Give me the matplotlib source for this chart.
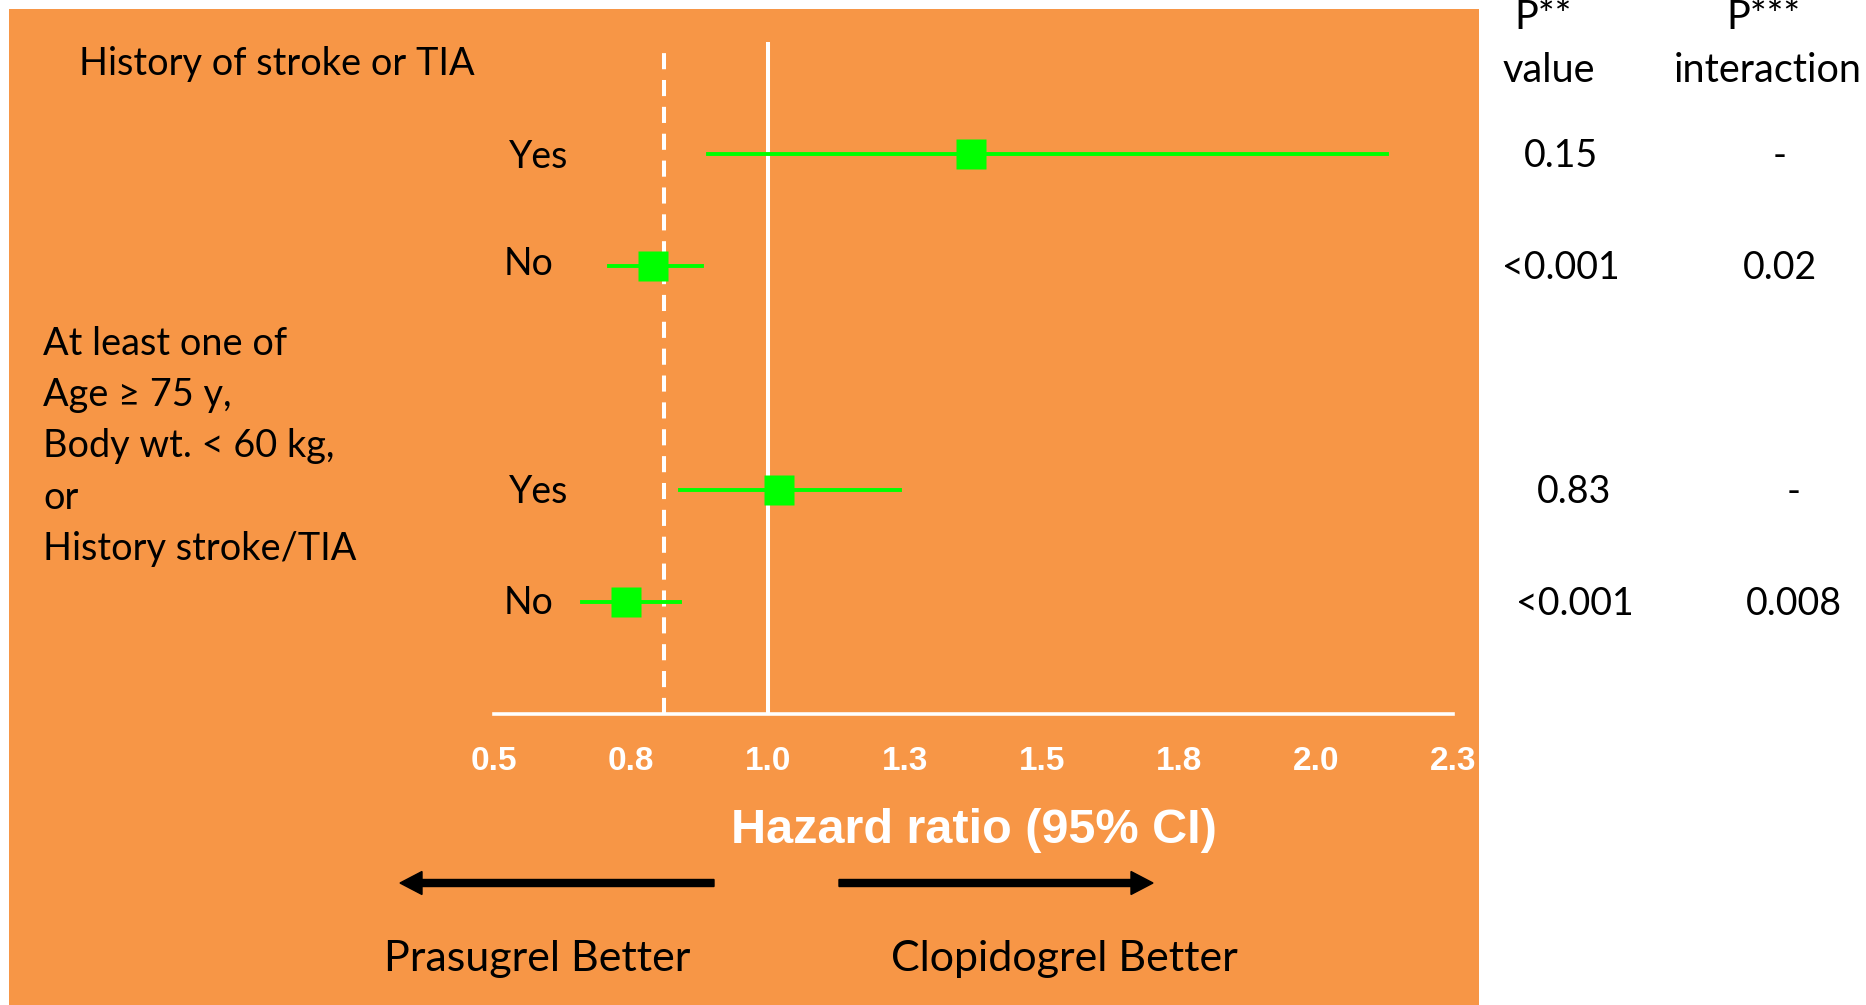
import matplotlib
matplotlib.use("Agg")
import matplotlib.pyplot as plt
import matplotlib.transforms as mtransforms
from matplotlib.patches import Rectangle, FancyArrow

W, H = 1866, 1005
ORANGE = "#F79646"
GREEN = "#00FF00"
TXT = "Lato"
BOLD = "Liberation Sans"

# subgroup rows (top to bottom)
row_labels = ["Yes", "No", "Yes", "No"]
rows = [5, 4, 2, 1]
hr = [1.37, 0.79, 1.02, 0.74]
ci_low = [0.89, 0.71, 0.84, 0.66]
ci_high = [2.13, 0.88, 1.24, 0.84]
p_value = ["0.15", "<0.001", "0.83", "<0.001"]
p_interaction = ["-", "0.02", "-", "0.008"]
overall_hr = 0.81

tick_pos = [0.5, 0.75, 1.0, 1.25, 1.5, 1.75, 2.0, 2.25]
tick_labels = ["0.5", "0.8", "1.0", "1.3", "1.5", "1.8", "2.0", "2.3"]
tick_marks = [1.0, 1.5, 2.0]


def fx(x):
    return x / W


def fy(y):
    return 1 - y / H


fig = plt.figure(figsize=(W / 100, H / 100), dpi=100, facecolor="white")
fig.add_artist(Rectangle((fx(9), 0), fx(1479 - 9), fy(9), transform=fig.transFigure,
                         facecolor=ORANGE, edgecolor="none", zorder=0))

ax = fig.add_axes([fx(494), fy(714), fx(1453 - 494), (714 - 42) / H])
ax.set_facecolor("none")
ax.set_xlim(0.5, 2.25)
ax.set_ylim(0, 6)
for s in ["top", "left", "right"]:
    ax.spines[s].set_visible(False)
ax.spines["bottom"].set_color("white")
ax.spines["bottom"].set_linewidth(2.6)
ax.set_yticks([])
ax.set_xticks(tick_pos)
ax.set_xticklabels(tick_labels, fontfamily=BOLD, fontweight="bold", fontsize=24, color="white")
ax.tick_params(axis="x", which="major", length=0, pad=23)
ax.set_xticks(tick_marks, minor=True)
ax.tick_params(axis="x", which="minor", length=6, width=2.6, color="white")

# reference lines: no effect and overall result
ax.axvline(1.0, color="white", lw=2.9, zorder=2)
ax.plot([overall_hr, overall_hr], [0, 5.93], color="white", lw=2.9,
        dashes=(4, 2.67), zorder=2)

for r, h, lo, hi in zip(rows, hr, ci_low, ci_high):
    ax.plot([lo, hi], [r, r], color=GREEN, lw=2.8, zorder=3, clip_on=False)
    ax.plot(h, r, marker="s", ms=21, color=GREEN, mec="none", zorder=4, clip_on=False)

# Yes/No labels (baseline drop below the row, in px)
label_drop = [14, 9, 13, 12]
for r, lab, d in zip(rows, row_labels, label_drop):
    x0 = 0.527 if lab == "Yes" else 0.518
    ax.text(x0, r - d / 112, lab, fontfamily=TXT, fontsize=27, va="baseline", ha="left")

# P value columns
tr = mtransforms.blended_transform_factory(fig.transFigure, ax.transData)
col1 = [1561, 1561, 1574, 1575]
col2 = [1780, 1780, 1794, 1794]
for r, pv, pi, c1, c2 in zip(rows, p_value, p_interaction, col1, col2):
    ax.text(fx(c1), r - 13 / 112, pv, transform=tr, ha="center", va="baseline",
            fontfamily=TXT, fontsize=27, clip_on=False)
    ax.text(fx(c2), r - 13 / 112, pi, transform=tr, ha="center", va="baseline",
            fontfamily=TXT, fontsize=27, clip_on=False)

fig.text(fx(1543), fy(29), "P**", ha="center", va="baseline", fontfamily=TXT, fontsize=28.5)
fig.text(fx(1549), fy(82), "value", ha="center", va="baseline", fontfamily=TXT, fontsize=28.5)
fig.text(fx(1763), fy(29), "P***", ha="center", va="baseline", fontfamily=TXT, fontsize=28.5)
fig.text(fx(1768), fy(82), "interaction", ha="center", va="baseline", fontfamily=TXT, fontsize=28.5)

# group headings
fig.text(fx(79), fy(75), "History of stroke or TIA", fontfamily=TXT, fontsize=27.3, va="baseline")
group2 = ["At least one of", "Age \u2265 75 y,", "Body wt. < 60 kg,", "or", "History stroke/TIA"]
for i, line in enumerate(group2):
    fig.text(fx(43), fy(355 + 51.2 * i), line, fontfamily=TXT, fontsize=27.3, va="baseline")

fig.text(fx(974), fy(843), "Hazard ratio (95% CI)", ha="center", va="baseline",
         fontfamily=BOLD, fontweight="bold", fontsize=35, color="white")

# direction arrows
ident = mtransforms.IdentityTransform()
fig.add_artist(FancyArrow(714, H - 883, 400 - 714, 0, width=7, head_width=23, head_length=22,
                          length_includes_head=True, color="black", transform=ident))
fig.add_artist(FancyArrow(839, H - 883, 1153 - 839, 0, width=7, head_width=23, head_length=22,
                          length_includes_head=True, color="black", transform=ident))
fig.text(fx(537), fy(971), "Prasugrel Better", ha="center", va="baseline", fontfamily=TXT, fontsize=31)
fig.text(fx(1064), fy(971), "Clopidogrel Better", ha="center", va="baseline", fontfamily=TXT, fontsize=31)

fig.savefig("out.png", dpi=100)
